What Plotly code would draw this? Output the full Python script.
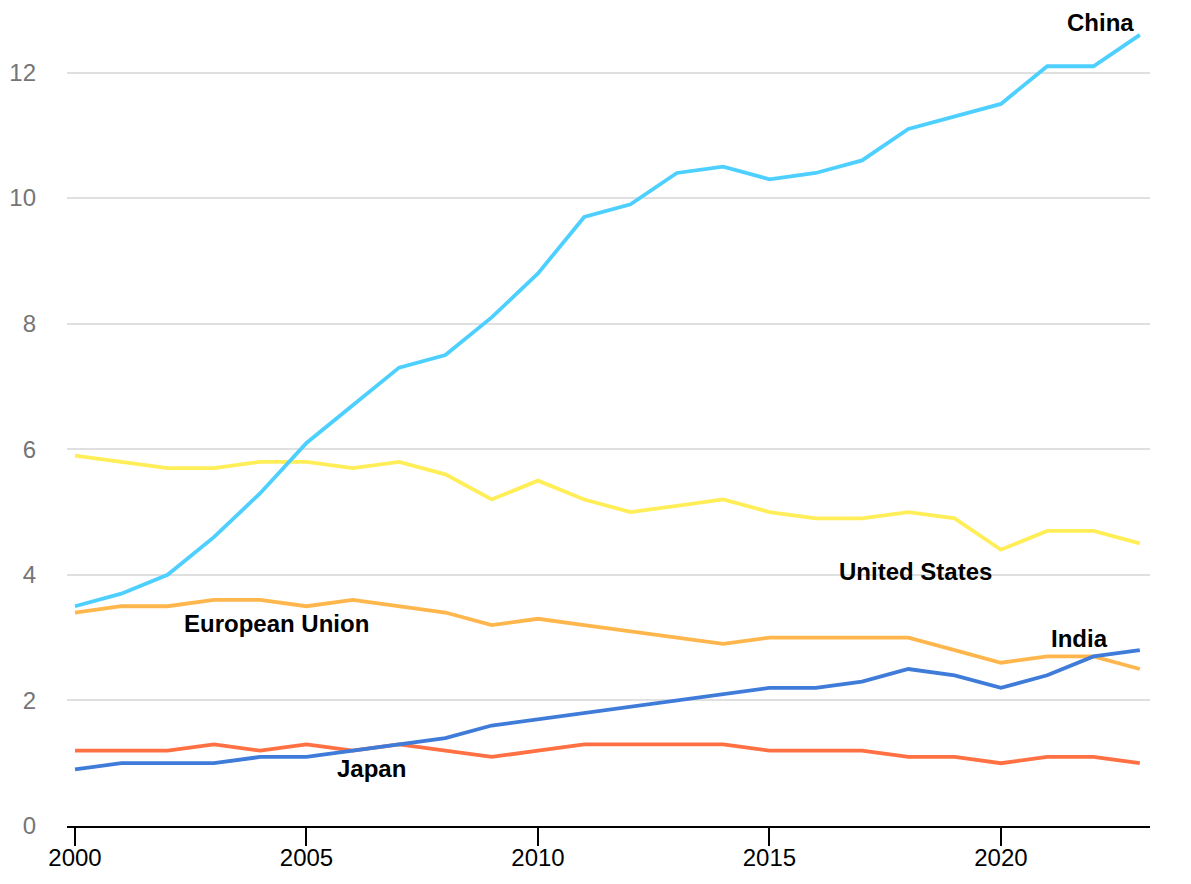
import plotly.graph_objects as go

years = list(range(2000, 2024))
china = [3.5, 3.7, 4.0, 4.6, 5.3, 6.1, 6.7, 7.3, 7.5, 8.1, 8.8, 9.7, 9.9, 10.4, 10.5, 10.3, 10.4, 10.6, 11.1, 11.3, 11.5, 12.1, 12.1, 12.6]
united_states = [5.9, 5.8, 5.7, 5.7, 5.8, 5.8, 5.7, 5.8, 5.6, 5.2, 5.5, 5.2, 5.0, 5.1, 5.2, 5.0, 4.9, 4.9, 5.0, 4.9, 4.4, 4.7, 4.7, 4.5]
european_union = [3.4, 3.5, 3.5, 3.6, 3.6, 3.5, 3.6, 3.5, 3.4, 3.2, 3.3, 3.2, 3.1, 3.0, 2.9, 3.0, 3.0, 3.0, 3.0, 2.8, 2.6, 2.7, 2.7, 2.5]
india = [0.9, 1.0, 1.0, 1.0, 1.1, 1.1, 1.2, 1.3, 1.4, 1.6, 1.7, 1.8, 1.9, 2.0, 2.1, 2.2, 2.2, 2.3, 2.5, 2.4, 2.2, 2.4, 2.7, 2.8]
japan = [1.2, 1.2, 1.2, 1.3, 1.2, 1.3, 1.2, 1.3, 1.2, 1.1, 1.2, 1.3, 1.3, 1.3, 1.3, 1.2, 1.2, 1.2, 1.1, 1.1, 1.0, 1.1, 1.1, 1.0]

series = [
    ("United States", united_states, "#ffee58"),
    ("European Union", european_union, "#ffb74d"),
    ("Japan", japan, "#ff7043"),
    ("India", india, "#3f7bd9"),
    ("China", china, "#4dd0ff"),
]

labels = [
    ("China", 2022.15, 12.8),
    ("United States", 2018.15, 4.06),
    ("European Union", 2004.36, 3.23),
    ("India", 2021.7, 2.99),
    ("Japan", 2006.4, 0.91),
]

fig = go.Figure()
for name, vals, color in series:
    fig.add_trace(go.Scatter(x=years, y=vals, mode="lines", name=name,
                             line=dict(color=color, width=3.8), cliponaxis=False))

for text, x, y in labels:
    fig.add_annotation(x=x, y=y, text=f"<b>{text}</b>", showarrow=False,
                       font=dict(family="Liberation Sans, Arial", size=24, color="#000000"),
                       xanchor="center", yanchor="middle", borderpad=0)

fig.update_layout(
    width=1175, height=868,
    margin=dict(l=59, r=33, t=7.5, b=50),
    paper_bgcolor="white", plot_bgcolor="white",
    showlegend=False,
    xaxis=dict(range=[1999.827, 2023.22], tickvals=[2000, 2005, 2010, 2015, 2020],
               automargin=False,
               showgrid=False, zeroline=False, showline=True, linecolor="#000000", linewidth=2.3,
               ticks="outside", ticklen=18, tickwidth=2, tickcolor="#000000",
               ticklabelstandoff=-9,
               tickfont=dict(family="Liberation Sans, Arial", size=24, color="#000000")),
    yaxis=dict(range=[0, 12.9], tickvals=[0, 2, 4, 6, 8, 10, 12],
               automargin=False,
               showgrid=True, gridcolor="#e0e0e0", gridwidth=1.5, zeroline=False,
               showline=False, ticks="", ticklabelstandoff=30,
               tickfont=dict(family="Liberation Sans, Arial", size=24, color="#757575")),
)

fig.write_html("out.html")
